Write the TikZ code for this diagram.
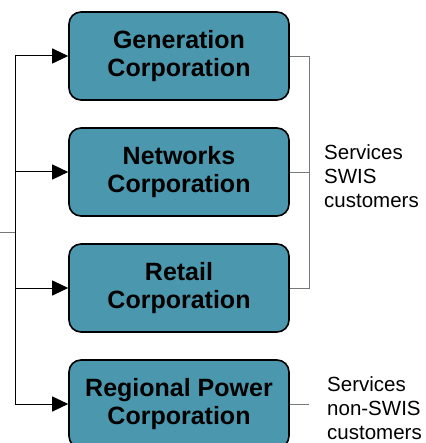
\documentclass[tikz,border=0pt]{standalone}
\usepackage{fontspec}
\setmainfont{Liberation Sans}
\usetikzlibrary{arrows.meta}
\definecolor{corpfill}{RGB}{75,152,174}
\definecolor{thingray}{RGB}{120,120,120}
\begin{document}
\begin{tikzpicture}[x=1pt,y=-1pt,
  corp/.style={draw=black, line width=1.6pt, fill=corpfill, rounded corners=12pt,
    minimum width=220pt, minimum height=88pt, align=center, inner sep=0pt,
    font=\fontsize{25}{28}\selectfont\bfseries},
  arr/.style={line width=1pt, -{Triangle[length=16pt,width=15pt]}},
  bracket/.style={draw=thingray, line width=0.8pt},
  note/.style={anchor=west, align=left, inner sep=0pt,
    font=\fontsize{20.5}{24}\selectfont}]
\useasboundingbox (0,0) rectangle (425,443);
\clip (0,0) rectangle (425,443);
\node[corp] (b1) at (179,56) {Generation\\Corporation};
\node[corp] (b2) at (179,172) {Networks\\Corporation};
\node[corp] (b3) at (179,288) {Retail\\Corporation};
\node[corp] (b4) at (179,404) {Regional Power\\Corporation};
\coordinate (bus) at (15,0);
\coordinate (stub) at (0,232);
\coordinate (br) at (309,0);
\draw[line width=1pt] (b1.west -| bus) -- (b4.west -| bus);
\draw[bracket] (stub) -- (stub -| bus);
\foreach \b in {b1,b2,b3,b4} \draw[arr] (\b.west -| bus) -- (\b.west);
\draw[bracket] (b1.east) -- (b1.east -| br) -- (b3.east -| br) -- (b3.east);
\draw[bracket] (b2.east) -- (b2.east -| br);
\draw[bracket] (b4.east) -- (b4.east -| br);
\node[note] (s1) at (324,176) {Services\\SWIS\\customers};
\node[note] (s2) at (327,408) {Services\\non-SWIS\\customers};
\end{tikzpicture}
\end{document}
